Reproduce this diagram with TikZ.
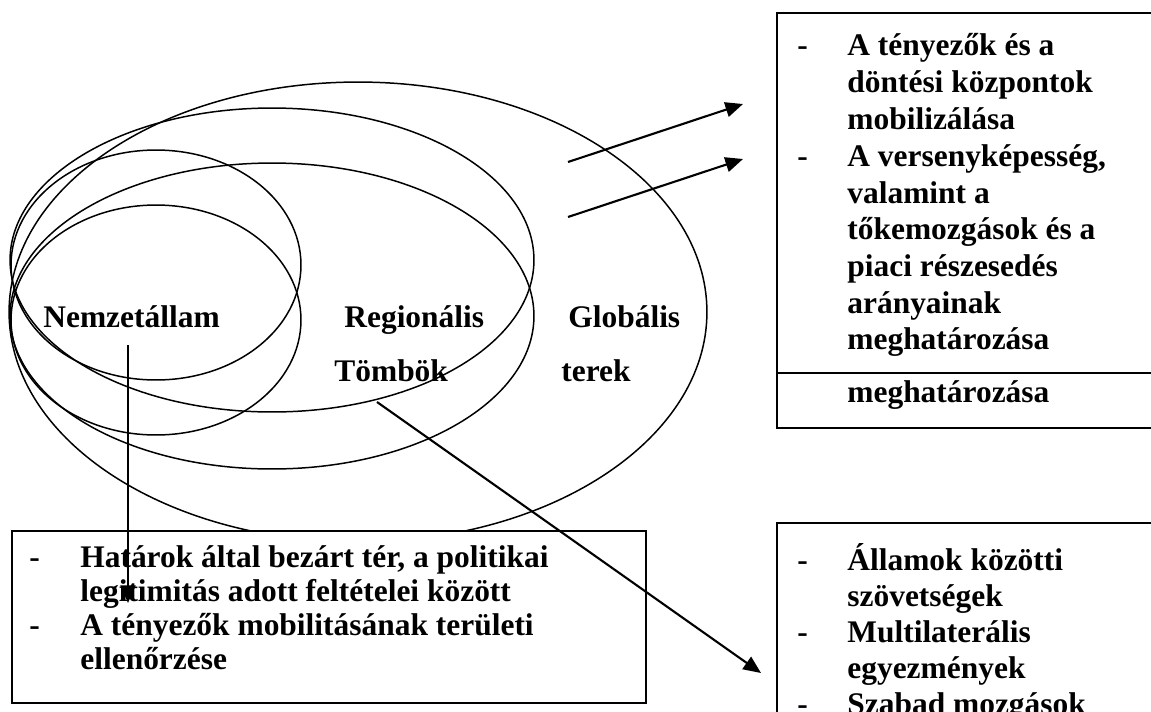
\documentclass[tikz,border=0pt]{standalone}
\usepackage{fontspec}
\setmainfont{Liberation Serif}
\usetikzlibrary{arrows.meta}
\begin{document}
\begin{tikzpicture}[x=0.02cm,y=-0.02cm,
  lbl/.style={anchor=base west, inner sep=0pt, font=\fontsize{17.9}{20}\selectfont\bfseries},
  ell/.style={line width=0.85pt},
  boxline/.style={line width=1.1pt, fill=white},
  arr/.style={line width=1.2pt, -{Triangle[length=10pt,width=8.5pt]}},
]
\useasboundingbox (0,0) rectangle (1151,711);
\clip (0,0) rectangle (1151,711);
% ellipses
\draw[ell] (358,312) ellipse [x radius=6.98cm, y radius=4.60cm];
\draw[ell] (272,260) ellipse [x radius=5.24cm, y radius=3.04cm];
\draw[ell] (272,316) ellipse [x radius=5.24cm, y radius=3.06cm];
\draw[ell] (156,265) ellipse [x radius=2.90cm, y radius=2.30cm];
\draw[ell] (156,320) ellipse [x radius=2.90cm, y radius=2.30cm];
% labels inside ellipses
\node[lbl] (nemzet) at (43,327) {Nemzetállam};
\node[lbl] (regio) at (344,327) {Regionális};
\node[lbl] (glob) at (568,327) {Globális};
\node[lbl] (tomb) at (334,381) {Tömbök};
\node[lbl] (terek) at (561,381) {terek};
% right top box
\draw[boxline] (777,13) rectangle (1170,428);
\draw[line width=1.1pt] (777,373) -- (1170,373);
\node[lbl] (rd1) at (797,55) {-};
\node[lbl] (r1) at (847,55) {A tényezők és a};
\node[lbl] (r2) at (847,92) {döntési központok};
\node[lbl] (r3) at (847,129) {mobilizálása};
\node[lbl] (rd2) at (797,166) {-};
\node[lbl] (r4) at (847,166) {A versenyképesség,};
\node[lbl] (r5) at (847,203) {valamint a};
\node[lbl] (r6) at (847,239) {tőkemozgások és a};
\node[lbl] (r7) at (847,276) {piaci részesedés};
\node[lbl] (r8) at (847,313) {arányainak};
\node[lbl] (r9) at (847,349) {meghatározása};
\node[lbl] (r10) at (847,402) {meghatározása};
% left bottom box
\draw[boxline] (12,531) rectangle (646,703);
\node[lbl] (ld1) at (29,567) {-};
\node[lbl] (l1) at (80,567) {Határok által bezárt tér, a politikai};
\node[lbl] (l2) at (80,601) {legitimitás adott feltételei között};
\node[lbl] (ld2) at (29,635) {-};
\node[lbl] (l3) at (80,635) {A tényezők mobilitásának területi};
\node[lbl] (l4) at (80,669) {ellenőrzése};
% right bottom box
\draw[boxline] (777,523) rectangle (1170,730);
\node[lbl] (bd1) at (797,570) {-};
\node[lbl] (b1) at (847,570) {Államok közötti};
\node[lbl] (b2) at (847,606) {szövetségek};
\node[lbl] (bd2) at (797,642) {-};
\node[lbl] (b3) at (847,642) {Multilaterális};
\node[lbl] (b4) at (847,678) {egyezmények};
\node[lbl] (bd3) at (797,714) {-};
\node[lbl] (b5) at (847,714) {Szabad mozgások};
% arrow end points
\coordinate (a1s) at (568,162);
\coordinate (a1e) at (743,104);
\coordinate (a2s) at (568,217);
\coordinate (a2e) at (743,159);
\coordinate (vs) at (128,345);
\coordinate (ve) at (128,603);
\coordinate (ds) at (377,402);
\coordinate (de) at (761,673);
\draw[arr] (a1s) -- (a1e);
\draw[arr] (a2s) -- (a2e);
\draw[arr] (vs) -- (ve);
\draw[arr] (ds) -- (de);
\end{tikzpicture}
\end{document}
